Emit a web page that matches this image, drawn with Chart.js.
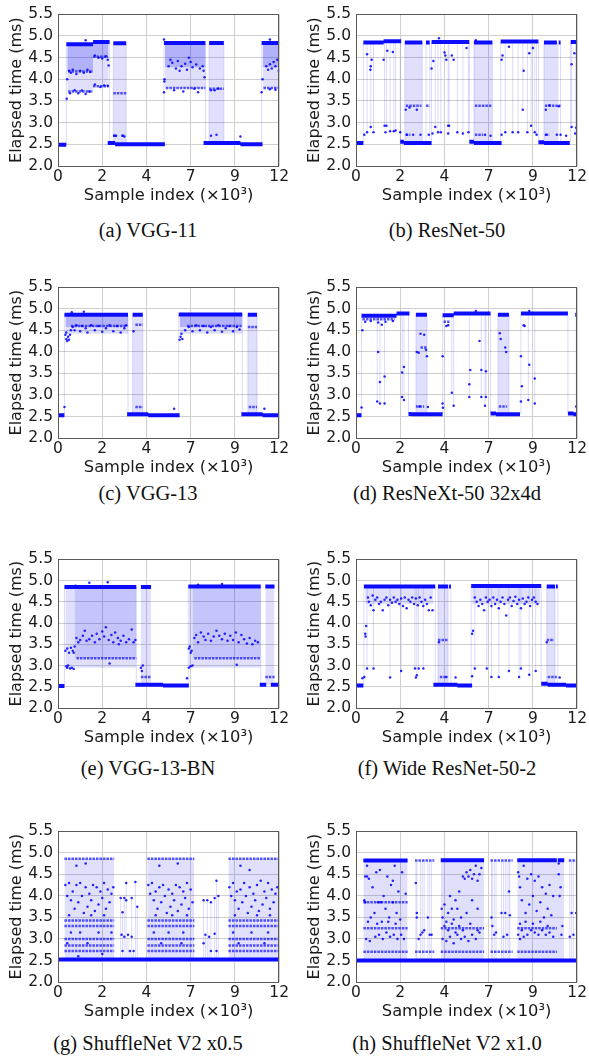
<!DOCTYPE html>
<html>
<head>
<meta charset="utf-8">
<script src="https://cdn.jsdelivr.net/npm/chart.js@4"></script>
<style>
  body { margin: 0; background: #fff; width: 589px; height: 1061px; position: relative; overflow: hidden; }
  canvas { position: absolute; }
  .cap { position: absolute; width: 290px; text-align: center; font-family: 'Liberation Serif', 'Times New Roman', serif; font-size: 20.5px; color: #111; line-height: 22px; }
</style>
</head>
<body>
<canvas id="cA"></canvas><canvas id="cB"></canvas>
<canvas id="cC"></canvas><canvas id="cD"></canvas>
<canvas id="cE"></canvas><canvas id="cF"></canvas>
<canvas id="cG"></canvas><canvas id="cH"></canvas>
<div class="cap" style="left:3px;top:219px">(a) VGG-11</div>
<div class="cap" style="left:302px;top:219px">(b) ResNet-50</div>
<div class="cap" style="left:3px;top:482px">(c) VGG-13</div>
<div class="cap" style="left:302px;top:482px">(d) ResNeXt-50 32x4d</div>
<div class="cap" style="left:3px;top:757px">(e) VGG-13-BN</div>
<div class="cap" style="left:302px;top:757px">(f) Wide ResNet-50-2</div>
<div class="cap" style="left:3px;top:1032px">(g) ShuffleNet V2 x0.5</div>
<div class="cap" style="left:302px;top:1032px">(h) ShuffleNet V2 x1.0</div>
<script>
// Axis ticks (sample index in thousands, elapsed time in ms)
const xTickValues = [0, 2.4, 4.8, 7.2, 9.6, 12];
const xTickLabels = ['0', '2', '4', '7', '9', '12'];
const yTickValues = [2.0, 2.5, 3.0, 3.5, 4.0, 4.5, 5.0, 5.5];

// Each panel: bands [x0, x1, y] (dense runs), rows [x0, x1, y] (dotted runs),
// fill / haze [x0, x1, low, high] (oscillation areas), spikes [x, low, high], dots [x, y]

// (a) VGG-11
const vgg11Bands = [[0, 0.45, 2.49], [0.45, 1.9, 4.81], [1.9, 2.8, 4.86], [2.7, 3.1, 2.53], [3.1, 5.8, 2.5],
  [3.0, 3.7, 4.83], [5.75, 8.0, 4.84], [8.2, 9.0, 4.84], [7.9, 9.9, 2.53], [9.9, 11.1, 2.5], [11.05, 12, 4.84]];
const vgg11Rows = [[0.55, 1.9, 4.18], [0.55, 1.9, 3.72], [1.9, 2.7, 4.52], [1.9, 2.75, 3.84], [3.0, 3.7, 3.68],
  [3.0, 3.2, 2.7], [3.45, 3.65, 2.7], [5.85, 8.0, 3.8], [8.2, 9.0, 3.78], [11.15, 12, 3.8]];
const vgg11Fill = [[0.5, 1.9, 4.18, 4.81], [1.9, 2.75, 4.5, 4.86], [5.8, 8.0, 4.28, 4.84], [11.1, 12, 4.28, 4.84]];
const vgg11Haze = [[0.5, 1.9, 3.72, 4.18], [1.9, 2.75, 3.84, 4.5], [3.0, 3.7, 2.5, 4.83], [5.8, 8.0, 3.8, 4.28],
  [8.2, 9.0, 2.53, 4.84], [11.1, 12, 3.8, 4.28]];
const vgg11Spikes = [[0.45, 2.49, 4.81], [2.8, 2.53, 4.86], [3.0, 2.53, 4.83], [3.7, 2.5, 4.83], [5.75, 2.5, 4.84],
  [8.0, 2.53, 4.84], [8.2, 2.53, 4.84], [9.0, 2.53, 4.84], [11.05, 2.5, 4.84]];
const vgg11Dots = [[0.47, 3.55], [0.5, 4.0], [0.6, 4.2], [0.7, 4.15], [0.8, 4.22], [1.0, 4.12], [1.2, 4.2], [1.4, 4.15],
  [1.6, 4.22], [1.75, 4.17], [0.65, 3.68], [0.9, 3.75], [1.1, 3.68], [1.3, 3.74], [1.5, 3.66], [1.7, 3.72], [1.5, 4.9],
  [2.0, 4.55], [2.2, 4.5], [2.4, 4.48], [2.6, 4.53], [2.75, 4.32], [2.7, 4.45], [2.0, 3.88], [2.3, 3.82], [2.5, 3.86],
  [2.7, 3.85], [3.05, 2.7], [3.15, 2.7], [3.5, 2.7], [3.6, 2.68], [5.75, 3.7], [5.78, 4.0], [5.77, 3.95], [5.75, 4.92],
  [6.0, 4.3], [6.2, 4.38], [6.4, 4.25], [6.5, 4.42], [6.7, 4.3], [6.9, 4.36], [7.0, 4.22], [7.2, 4.4], [7.3, 4.28],
  [7.5, 4.34], [7.7, 4.25], [7.85, 4.3], [6.1, 4.45], [6.6, 4.2], [7.1, 4.5], [7.9, 4.2], [7.95, 4.05], [6.3, 3.75],
  [6.8, 3.72], [7.4, 3.78], [7.6, 3.7], [8.3, 3.75], [8.5, 3.75], [8.7, 3.79], [8.3, 2.7], [8.6, 2.72], [9.9, 2.68],
  [11.05, 3.7], [11.1, 4.0], [11.3, 4.3], [11.5, 4.35], [11.6, 4.25], [11.7, 4.4], [11.8, 4.3], [11.9, 4.45],
  [11.98, 4.2], [11.4, 4.22], [11.5, 4.92], [11.5, 3.77], [11.8, 3.76]];

// (b) ResNet-50
const resnet50Bands = [[0, 0.4, 2.53], [0.4, 1.5, 4.85], [1.5, 2.45, 4.88], [2.4, 2.6, 2.56], [2.6, 4.1, 2.53],
  [2.65, 3.6, 4.85], [3.8, 4.0, 4.85], [4.1, 6.15, 4.86], [6.15, 6.4, 2.56], [6.4, 7.9, 2.53], [6.4, 7.4, 4.85],
  [7.85, 9.9, 4.87], [9.9, 10.2, 2.55], [10.2, 11.6, 2.53], [10.2, 10.9, 4.85], [11.0, 11.1, 4.85], [11.65, 12, 4.86]];
const resnet50Rows = [[2.7, 3.55, 3.39], [3.8, 4.0, 3.39], [6.45, 7.4, 3.39], [10.25, 11.1, 3.39], [2.7, 2.95, 2.72],
  [6.45, 6.9, 2.72], [10.3, 10.5, 2.72]];
const resnet50Fill = [];
const resnet50Haze = [[2.65, 3.6, 2.53, 4.85], [6.4, 7.4, 2.53, 4.85], [10.2, 11.0, 2.53, 4.85]];
const resnet50Spikes = [[0.4, 2.53, 4.85], [0.6, 2.78, 4.85], [0.8, 2.9, 4.85], [0.95, 2.78, 4.85], [1.55, 2.93, 4.88],
  [1.65, 2.93, 4.88], [1.85, 2.8, 4.88], [2.05, 2.8, 4.88], [2.15, 2.82, 4.88], [2.4, 2.53, 4.88], [2.65, 2.53, 4.85],
  [3.6, 2.53, 4.85], [3.8, 2.53, 4.85], [4.0, 2.53, 4.85], [4.1, 2.53, 4.86], [4.3, 2.9, 4.86], [4.45, 2.78, 4.86],
  [4.6, 2.78, 4.86], [5.0, 2.93, 4.86], [5.05, 2.75, 4.86], [5.5, 2.78, 4.86], [5.8, 2.75, 4.86], [6.1, 2.78, 4.86],
  [6.15, 2.56, 4.86], [6.4, 2.53, 4.85], [7.4, 2.53, 4.85], [7.85, 2.53, 4.87], [8.1, 2.78, 4.87], [8.5, 2.78, 4.87],
  [8.8, 2.78, 4.87], [9.05, 3.3, 4.87], [9.3, 2.78, 4.87], [9.5, 2.93, 4.87], [9.7, 2.78, 4.87], [9.8, 2.72, 4.87],
  [9.9, 2.55, 4.87], [10.2, 2.53, 4.85], [11.1, 2.53, 4.85], [11.65, 2.53, 4.86], [11.7, 2.9, 4.86], [11.9, 2.75, 4.86]];
const resnet50Dots = [[0.45, 2.72], [0.6, 4.58], [0.8, 4.3], [0.78, 4.22], [0.85, 4.45], [0.8, 2.9], [0.95, 2.78],
  [0.6, 2.78], [1.5, 4.45], [1.55, 2.93], [1.7, 4.66], [1.65, 2.93], [1.85, 2.8], [2.0, 4.63], [2.05, 2.8], [2.15, 2.82],
  [2.4, 2.78], [1.6, 2.78], [2.7, 3.3], [2.9, 3.35], [3.3, 3.3], [2.75, 2.72], [3.1, 2.72], [3.5, 2.72], [3.95, 2.72],
  [4.1, 4.25], [4.2, 4.42], [4.3, 2.9], [4.15, 2.75], [4.45, 2.78], [4.5, 4.95], [4.8, 4.62], [4.85, 4.55], [4.9, 4.45],
  [5.0, 2.93], [5.05, 2.93], [5.2, 4.55], [5.3, 4.45], [5.5, 2.78], [5.8, 2.75], [6.1, 2.78], [6.0, 4.72], [4.6, 2.78],
  [5.0, 2.75], [6.5, 4.9], [7.0, 2.72], [7.3, 2.7], [7.9, 4.45], [7.95, 4.55], [8.1, 2.78], [7.9, 2.72], [8.3, 4.75],
  [8.5, 2.78], [8.8, 2.78], [9.1, 4.2], [9.05, 3.3], [9.4, 4.6], [9.5, 2.93], [9.3, 2.78], [9.7, 2.78], [9.8, 2.72],
  [9.6, 4.72], [10.3, 3.3], [10.5, 3.4], [11.0, 3.38], [10.3, 2.72], [10.9, 2.72], [11.1, 2.72], [11.4, 2.7],
  [11.7, 4.35], [11.85, 4.6], [11.7, 2.9], [11.9, 2.75], [11.95, 2.88]];

// (c) VGG-13
const vgg13Bands = [[0, 0.35, 2.53], [0.35, 3.8, 4.86], [3.75, 4.9, 2.55], [4.9, 6.6, 2.53], [4.05, 4.6, 4.86],
  [6.55, 10.0, 4.87], [9.95, 11.1, 2.55], [11.1, 12, 2.53], [10.3, 10.8, 4.86]];
const vgg13Rows = [[4.2, 4.6, 4.63], [10.3, 10.8, 4.58], [4.2, 4.6, 2.72], [10.35, 10.8, 2.72], [0.7, 3.75, 4.6],
  [7.0, 9.95, 4.6]];
const vgg13Fill = [[0.4, 3.8, 4.58, 4.86], [6.6, 10.0, 4.58, 4.87]];
const vgg13Haze = [[0.4, 3.8, 4.42, 4.58], [6.6, 10.0, 4.42, 4.58], [4.05, 4.6, 2.55, 4.86], [10.3, 10.8, 2.55, 4.86]];
const vgg13Spikes = [[0.35, 2.53, 4.86], [3.8, 2.55, 4.86], [4.05, 2.55, 4.86], [4.6, 2.55, 4.86], [6.55, 2.53, 4.87],
  [10.0, 2.55, 4.87], [10.3, 2.55, 4.86], [10.8, 2.55, 4.86]];
const vgg13Dots = [[0.35, 2.72], [0.4, 4.4], [0.45, 4.3], [0.5, 4.25], [0.55, 4.35], [0.6, 4.28], [0.45, 4.45],
  [0.65, 4.4], [0.7, 4.5], [0.8, 4.58], [0.9, 4.5], [1.0, 4.62], [1.2, 4.48], [1.3, 4.6], [1.5, 4.55], [1.6, 4.45],
  [1.8, 4.62], [2.0, 4.5], [2.2, 4.6], [2.4, 4.47], [2.6, 4.55], [2.8, 4.62], [3.0, 4.48], [3.2, 4.6], [3.4, 4.45],
  [3.6, 4.55], [3.7, 4.62], [1.4, 4.93], [0.75, 4.92], [4.1, 4.48], [6.3, 2.68], [6.6, 4.28], [6.65, 4.35], [6.7, 4.42],
  [6.75, 4.3], [6.9, 4.5], [7.1, 4.58], [7.3, 4.48], [7.5, 4.62], [7.7, 4.5], [7.9, 4.6], [8.1, 4.45], [8.3, 4.58],
  [8.5, 4.5], [8.7, 4.62], [8.9, 4.47], [9.1, 4.55], [9.3, 4.6], [9.5, 4.48], [9.7, 4.58], [9.85, 4.52], [11.2, 2.68]];

// (d) ResNeXt-50 32x4d
const resnextBands = [[0, 0.3, 2.53], [0.3, 2.2, 4.84], [2.2, 2.9, 4.89], [2.85, 3.0, 2.56], [3.0, 4.7, 2.55],
  [3.25, 3.85, 4.86], [4.7, 5.3, 4.85], [5.3, 7.3, 4.89], [7.3, 7.6, 2.57], [7.6, 8.9, 2.55], [7.7, 8.3, 4.86],
  [8.95, 11.5, 4.89], [11.5, 11.8, 2.57], [11.8, 12, 2.55], [11.9, 12, 4.86]];
const resnextRows = [[3.25, 3.7, 2.73], [3.5, 3.85, 4.1], [7.75, 8.2, 2.73], [0.35, 2.1, 4.76], [4.75, 5.1, 4.7]];
const resnextFill = [];
const resnextHaze = [[3.25, 3.85, 2.55, 4.86], [7.7, 8.3, 2.55, 4.86]];
const resnextSpikes = [[0.3, 2.53, 4.84], [1.15, 2.85, 4.84], [1.3, 2.8, 4.84], [1.55, 2.8, 4.84], [2.5, 2.95, 4.89],
  [2.6, 2.88, 4.89], [2.85, 2.56, 4.89], [3.25, 2.55, 4.86], [3.85, 2.55, 4.86], [4.7, 2.55, 4.85], [5.2, 3.05, 4.89],
  [5.3, 2.75, 4.89], [6.15, 2.95, 4.89], [6.8, 2.95, 4.89], [7.0, 2.75, 4.89], [7.05, 2.95, 4.89], [7.3, 2.57, 4.89],
  [7.7, 2.55, 4.86], [8.3, 2.55, 4.86], [8.95, 2.55, 4.89], [9.35, 2.88, 4.89], [9.7, 2.8, 4.89], [11.5, 2.57, 4.89],
  [11.95, 2.55, 4.86]];
const resnextDots = [[0.3, 2.71], [0.35, 4.5], [0.5, 4.7], [0.8, 4.72], [1.2, 4.68], [1.4, 4.63], [1.6, 4.7], [2.0, 4.72],
  [1.2, 4.0], [1.3, 3.3], [1.55, 3.43], [1.15, 2.85], [1.3, 2.8], [1.55, 2.8], [2.6, 3.65], [2.5, 3.52], [2.5, 2.95],
  [2.6, 2.88], [3.3, 4.0], [3.5, 4.42], [3.4, 3.98], [3.7, 4.4], [3.8, 4.05], [3.85, 3.9], [3.45, 2.73], [3.9, 2.72],
  [4.7, 3.9], [4.7, 2.8], [4.72, 2.7], [4.9, 4.6], [5.0, 4.62], [5.2, 3.05], [5.3, 2.75], [6.15, 3.25], [6.15, 2.95],
  [6.2, 3.58], [6.7, 4.25], [6.8, 3.58], [6.8, 2.95], [7.05, 3.55], [7.05, 2.95], [7.0, 2.75], [7.8, 4.43], [7.85, 4.3],
  [8.1, 4.1], [8.15, 4.0], [8.95, 3.9], [9.0, 3.2], [8.95, 2.85], [9.1, 4.62], [9.15, 4.6], [9.4, 3.7], [9.35, 2.88],
  [9.7, 3.38], [9.7, 2.8], [11.95, 2.73], [6.5, 4.95], [9.4, 4.95]];

// (e) VGG-13-BN
const vgg13bnBands = [[0, 0.35, 2.52], [0.35, 4.25, 4.85], [4.2, 5.7, 2.55], [5.7, 7.1, 2.53], [4.5, 5.05, 4.85],
  [7.07, 11.0, 4.86], [10.95, 11.3, 2.55], [11.55, 12, 2.55], [11.25, 11.75, 4.86]];
const vgg13bnRows = [[1.0, 4.25, 3.17], [7.4, 11.0, 3.17], [4.5, 5.05, 2.73], [11.25, 11.75, 2.73]];
const vgg13bnFill = [];
const vgg13bnHaze = [[0.4, 4.25, 2.95, 4.85], [7.1, 11.0, 2.95, 4.86], [4.5, 5.05, 2.55, 4.85], [11.25, 11.75, 2.55, 4.86],
  [0.9, 4.25, 3.17, 4.85], [7.3, 11.0, 3.17, 4.86]];
const vgg13bnSpikes = [[0.35, 2.52, 4.85], [4.25, 2.55, 4.85], [7.07, 2.53, 4.86], [11.0, 2.55, 4.86]];
const vgg13bnDots = [[0.4, 3.35], [0.5, 3.4], [0.6, 3.3], [0.7, 3.42], [0.8, 3.35], [0.85, 3.3], [0.45, 2.98], [0.55, 3.0],
  [0.65, 2.93], [0.75, 2.95], [0.85, 2.92], [0.5, 2.95], [0.9, 3.45], [1.0, 3.65], [1.1, 3.55], [1.2, 3.6], [1.35, 3.7],
  [1.45, 3.82], [1.55, 3.58], [1.7, 3.62], [1.85, 3.7], [2.0, 3.55], [2.1, 3.75], [2.25, 3.62], [2.4, 3.8], [2.5, 3.68],
  [2.6, 3.9], [2.75, 3.6], [2.9, 3.72], [3.0, 3.55], [3.1, 3.78], [3.25, 3.65], [3.4, 3.58], [3.55, 3.7], [3.7, 3.55],
  [3.85, 3.62], [4.0, 3.85], [4.1, 3.55], [4.2, 3.6], [3.3, 3.5], [2.8, 3.05], [1.7, 4.95], [2.7, 4.96], [0.95, 4.88],
  [4.5, 2.95], [4.55, 2.87], [4.6, 3.0], [7.0, 2.7], [7.1, 3.4], [7.15, 3.45], [7.2, 3.3], [7.25, 3.35], [7.1, 2.95],
  [7.2, 2.98], [7.3, 3.0], [7.4, 3.65], [7.5, 3.72], [7.6, 3.55], [7.75, 3.78], [7.9, 3.68], [8.0, 3.6], [8.15, 3.75],
  [8.3, 3.58], [8.45, 3.68], [8.6, 3.82], [8.75, 3.7], [8.9, 3.62], [9.05, 3.75], [9.2, 3.58], [9.35, 3.7], [9.5, 3.6],
  [9.65, 3.78], [9.8, 3.55], [9.95, 3.72], [10.1, 3.62], [10.25, 3.52], [10.4, 3.65], [10.55, 3.5], [10.7, 3.58],
  [10.85, 3.55], [9.7, 3.02], [7.6, 4.9], [8.9, 4.92]];

// (f) Wide ResNet-50-2
const wideResnetBands = [[0, 0.4, 2.53], [0.43, 4.3, 4.86], [4.2, 4.6, 2.55], [4.6, 5.5, 2.55], [5.5, 6.3, 2.53],
  [4.45, 5.0, 4.86], [5.05, 5.15, 4.86], [6.25, 10.05, 4.87], [10.05, 10.4, 2.57], [10.4, 11.4, 2.55], [11.4, 12, 2.53],
  [10.35, 10.8, 4.86], [10.85, 10.95, 4.86]];
const wideResnetRows = [[4.45, 5.0, 3.6], [10.35, 10.75, 3.6], [4.55, 4.95, 2.73], [10.4, 10.9, 2.73]];
const wideResnetFill = [];
const wideResnetHaze = [[4.45, 5.0, 2.55, 4.86], [10.35, 10.8, 2.55, 4.86], [0.5, 4.2, 4.45, 4.86], [6.3, 10.0, 4.45, 4.87]];
const wideResnetSpikes = [[0.43, 2.53, 4.86], [0.6, 2.93, 4.86], [0.95, 2.93, 4.86], [1.85, 2.72, 4.86], [2.45, 2.87, 4.86],
  [3.2, 2.93, 4.86], [3.3, 2.77, 4.86], [3.4, 2.93, 4.86], [3.65, 2.93, 4.86], [4.3, 2.55, 4.86], [4.45, 2.55, 4.86],
  [5.0, 2.55, 4.86], [5.15, 2.55, 4.86], [6.25, 2.53, 4.87], [6.45, 2.93, 4.87], [7.1, 2.93, 4.87], [7.35, 2.73, 4.87],
  [7.75, 2.73, 4.87], [8.3, 2.87, 4.87], [8.85, 2.73, 4.87], [8.95, 2.93, 4.87], [9.4, 2.78, 4.87], [9.75, 2.87, 4.87],
  [10.05, 2.57, 4.87], [10.35, 2.55, 4.86], [10.8, 2.55, 4.86], [10.95, 2.55, 4.86]];
const wideResnetDots = [[0.35, 2.7], [0.45, 2.73], [0.5, 3.75], [0.52, 3.68], [0.55, 3.93], [0.6, 2.93], [0.65, 4.6],
  [0.7, 4.5], [0.8, 4.42], [0.9, 4.65], [0.95, 4.3], [1.05, 4.55], [1.15, 4.6], [1.25, 4.45], [1.35, 4.5], [1.45, 4.3],
  [1.55, 4.55], [1.65, 4.6], [1.75, 4.42], [1.85, 4.55], [1.95, 4.48], [2.05, 4.6], [2.15, 4.5], [2.25, 4.55],
  [2.35, 4.45], [2.45, 4.58], [2.55, 4.4], [2.65, 4.6], [2.75, 4.35], [2.85, 4.55], [2.95, 4.5], [3.05, 4.6],
  [3.15, 4.45], [3.25, 4.58], [3.35, 4.42], [3.45, 4.6], [3.55, 4.5], [3.65, 4.4], [3.75, 4.55], [3.85, 4.45],
  [3.95, 4.3], [4.05, 4.6], [4.15, 4.3], [0.95, 2.93], [1.85, 2.72], [2.45, 2.87], [3.2, 2.93], [3.3, 2.77], [3.25, 2.72],
  [3.4, 2.93], [3.65, 2.93], [4.5, 3.55], [4.9, 2.73], [5.4, 2.72], [6.3, 2.75], [6.3, 3.75], [6.35, 3.82], [6.45, 4.6],
  [6.55, 4.5], [6.65, 4.4], [6.75, 4.55], [6.85, 4.45], [6.95, 4.3], [7.05, 4.6], [7.15, 4.5], [7.25, 4.55], [7.35, 4.4],
  [7.45, 4.6], [7.55, 4.45], [7.65, 4.55], [7.75, 4.35], [7.85, 4.5], [7.95, 4.6], [8.05, 4.45], [8.15, 4.18],
  [8.25, 4.55], [8.35, 4.6], [8.45, 4.4], [8.55, 4.52], [8.65, 4.62], [8.75, 4.45], [8.85, 4.55], [8.95, 4.35],
  [9.05, 4.58], [9.15, 4.45], [9.25, 4.5], [9.35, 4.6], [9.45, 4.4], [9.55, 4.55], [9.65, 4.6], [9.75, 4.5],
  [9.85, 4.45], [6.45, 2.93], [7.1, 2.93], [7.35, 2.73], [7.75, 2.73], [8.3, 2.87], [8.85, 2.73], [8.95, 2.93],
  [9.4, 2.78], [9.75, 2.87], [10.35, 3.55], [11.05, 2.72]];

// (g) ShuffleNet V2 x0.5
const shuffle05Bands = [[0, 12, 2.52]];
const shuffle05Rows = [[0.35, 3.05, 4.86], [4.85, 7.4, 4.86], [9.25, 12, 4.86],
  [0.35, 3.05, 3.43], [4.85, 7.4, 3.43], [9.25, 12, 3.43], [0.35, 3.05, 3.3], [4.85, 7.4, 3.3], [9.25, 12, 3.3],
  [0.35, 3.05, 3.0], [4.85, 7.4, 3.0], [9.25, 12, 3.0], [0.35, 3.05, 2.85], [4.85, 7.4, 2.85], [9.25, 12, 2.85],
  [0.35, 3.05, 2.72], [4.85, 7.4, 2.72], [9.25, 12, 2.72]];
const shuffle05Fill = [];
const shuffle05Haze = [[0.35, 3.05, 2.52, 4.86], [4.85, 7.4, 2.52, 4.86], [9.25, 12, 2.52, 4.86]];
const shuffle05Spikes = [[3.4, 2.52, 3.95], [3.5, 2.52, 3.62], [3.6, 2.52, 3.95], [3.7, 2.52, 4.3], [3.8, 2.52, 3.1],
  [3.9, 2.52, 2.72], [4.0, 2.52, 3.95], [4.1, 2.52, 2.72], [4.2, 2.52, 4.32], [4.3, 2.52, 3.75], [7.9, 2.52, 3.9],
  [8.0, 2.52, 3.1], [8.1, 2.52, 3.9], [8.2, 2.52, 3.05], [8.3, 2.52, 3.85], [8.5, 2.52, 3.95], [8.6, 2.52, 4.35],
  [8.7, 2.52, 4.0]];
const shuffle05Dots = [[0.4, 4.25], [0.5, 4.0], [0.6, 4.3], [0.7, 3.9], [0.8, 4.1], [0.9, 3.7], [1.0, 4.25], [1.1, 3.85],
  [1.2, 4.3], [1.3, 4.0], [1.4, 3.6], [1.5, 4.2], [1.6, 3.75], [1.7, 4.05], [1.8, 3.9], [1.9, 4.25], [2.0, 3.65],
  [2.1, 4.2], [2.2, 3.8], [2.3, 4.1], [2.4, 3.95], [2.5, 4.3], [2.6, 3.7], [2.7, 4.15], [2.8, 3.85], [2.9, 4.05],
  [3.0, 4.2], [1.0, 4.7], [1.5, 4.75], [0.6, 3.55], [1.8, 3.55], [2.5, 3.55], [0.7, 3.15], [1.2, 3.15], [2.2, 3.15],
  [2.9, 3.15], [0.5, 2.9], [1.6, 2.9], [2.4, 2.65], [1.1, 2.6], [3.4, 3.95], [3.6, 3.95], [3.7, 3.9], [4.0, 3.95],
  [3.5, 3.62], [3.45, 3.1], [3.6, 3.05], [3.8, 3.1], [4.0, 3.05], [3.5, 2.72], [3.9, 2.72], [4.1, 2.72], [3.7, 4.3],
  [4.2, 4.32], [4.3, 3.75], [4.9, 4.25], [5.0, 4.05], [5.1, 4.3], [5.2, 3.9], [5.3, 4.1], [5.4, 3.7], [5.5, 4.2],
  [5.6, 3.85], [5.7, 4.25], [5.8, 4.0], [5.9, 3.6], [6.0, 4.15], [6.1, 3.75], [6.2, 4.05], [6.3, 3.9], [6.4, 4.25],
  [6.5, 3.65], [6.6, 4.2], [6.7, 3.8], [6.8, 4.1], [6.9, 3.95], [7.0, 4.3], [7.1, 3.7], [7.2, 4.15], [7.3, 3.85],
  [5.5, 4.7], [6.5, 4.75], [5.3, 3.55], [6.2, 3.55], [7.0, 3.55], [5.2, 3.15], [6.0, 3.15], [6.8, 3.15], [5.6, 2.9],
  [6.7, 2.9], [7.9, 3.9], [8.1, 3.9], [8.3, 3.85], [8.5, 3.95], [8.6, 4.35], [8.0, 3.1], [8.2, 3.05], [8.5, 3.12],
  [7.9, 2.9], [8.3, 2.72], [8.6, 2.72], [8.7, 4.0], [9.3, 4.2], [9.4, 4.0], [9.5, 4.3], [9.6, 3.9], [9.7, 4.1],
  [9.8, 3.7], [9.9, 4.15], [10.0, 3.85], [10.1, 4.3], [10.2, 4.0], [10.3, 3.6], [10.4, 4.2], [10.5, 3.75], [10.6, 4.05],
  [10.7, 3.9], [10.8, 4.25], [10.9, 3.65], [11.0, 4.35], [11.1, 3.8], [11.2, 4.1], [11.3, 3.95], [11.4, 4.3],
  [11.5, 3.7], [11.6, 4.15], [11.7, 3.85], [11.8, 4.05], [11.9, 4.2], [10.4, 4.6], [9.9, 4.7], [9.6, 3.55], [10.8, 3.55],
  [11.5, 3.55], [9.5, 3.15], [10.5, 3.15], [11.4, 3.15], [9.8, 2.9], [11.2, 2.9]];

// (h) ShuffleNet V2 x1.0
const shuffle10Bands = [[0, 12, 2.5], [0.4, 2.8, 4.82], [4.6, 6.95, 4.83], [8.75, 10.9, 4.83], [10.95, 11.3, 4.83]];
const shuffle10Rows = [[3.2, 4.25, 4.82], [7.3, 8.5, 4.82], [11.55, 12, 4.82], [0.4, 2.8, 2.7], [4.6, 6.95, 2.7],
  [8.75, 10.9, 2.7], [3.2, 4.25, 2.7], [7.3, 8.5, 2.7], [0.4, 2.8, 3.25], [4.6, 6.95, 3.25], [8.75, 10.9, 3.25],
  [0.4, 2.8, 3.85]];
const shuffle10Fill = [];
const shuffle10Haze = [[0.4, 2.8, 2.5, 4.82], [4.6, 6.95, 2.5, 4.83], [8.75, 11.3, 2.5, 4.83]];
const shuffle10Spikes = [[3.25, 2.5, 4.82], [3.3, 2.5, 4.82], [3.5, 2.5, 4.82], [3.6, 2.5, 4.82], [3.7, 2.5, 4.82],
  [3.9, 2.5, 4.82], [4.0, 2.5, 4.82], [4.1, 2.5, 4.82], [7.35, 2.5, 4.82], [7.4, 2.5, 4.82], [7.5, 2.5, 4.82],
  [7.6, 2.5, 4.82], [7.9, 2.5, 4.82], [8.0, 2.5, 4.82], [8.1, 2.5, 4.82], [8.2, 2.5, 4.82], [8.3, 2.5, 4.82],
  [8.35, 2.5, 4.82], [11.6, 2.5, 4.82], [11.7, 2.5, 4.82], [11.8, 2.5, 4.82], [11.95, 2.5, 4.82]];
const shuffle10Dots = [[0.45, 3.9], [0.5, 4.45], [0.6, 4.7], [0.7, 4.4], [0.8, 3.5], [0.9, 4.2], [1.0, 3.6], [1.1, 4.55],
  [1.2, 3.85], [1.3, 4.6], [1.4, 3.4], [1.5, 4.0], [1.6, 3.7], [1.7, 4.45], [1.8, 3.5], [1.9, 4.25], [2.0, 3.85],
  [2.1, 4.7], [2.2, 3.6], [2.3, 4.1], [2.4, 3.45], [2.5, 4.55], [2.6, 3.0], [2.7, 4.05], [0.55, 3.0], [0.75, 2.95],
  [1.05, 3.05], [1.25, 3.1], [1.45, 3.0], [1.65, 3.15], [1.85, 3.05], [2.05, 3.1], [2.25, 3.0], [2.45, 3.1],
  [0.65, 3.4], [1.15, 3.35], [1.75, 3.4], [2.15, 3.35], [0.5, 3.85], [1.35, 3.85], [0.6, 4.45], [2.0, 4.35],
  [3.25, 4.3], [3.3, 3.6], [3.3, 3.5], [3.5, 3.1], [3.6, 3.15], [3.7, 3.2], [3.9, 3.5], [4.0, 3.1], [3.4, 3.0],
  [4.1, 3.1], [4.65, 3.7], [4.7, 3.5], [4.8, 3.8], [4.9, 3.4], [5.0, 3.6], [5.1, 4.0], [5.2, 3.7], [5.3, 3.45],
  [5.4, 3.9], [5.5, 3.7], [5.6, 4.1], [5.7, 3.5], [5.8, 4.45], [5.9, 4.4], [6.0, 4.55], [6.1, 4.45], [6.2, 4.6],
  [6.3, 4.4], [6.4, 4.5], [6.5, 4.7], [6.6, 4.35], [6.7, 4.5], [6.8, 4.65], [6.0, 3.6], [6.3, 3.9], [6.6, 3.7],
  [4.7, 3.0], [4.9, 2.95], [5.1, 3.05], [5.3, 2.9], [5.5, 3.1], [5.7, 3.0], [5.9, 3.05], [6.1, 2.95], [6.3, 3.1],
  [6.5, 3.0], [6.7, 3.15], [4.8, 3.3], [5.0, 3.2], [5.2, 3.35], [5.4, 3.15], [5.6, 3.3], [5.8, 3.2], [6.2, 3.35],
  [6.6, 3.2], [7.35, 3.5], [7.4, 3.3], [7.5, 3.1], [7.6, 3.15], [7.9, 3.6], [8.0, 3.05], [8.1, 3.6], [8.3, 4.1],
  [8.35, 3.55], [8.2, 3.1], [8.8, 4.55], [8.85, 4.45], [8.9, 4.2], [9.0, 3.9], [9.1, 4.7], [9.2, 3.6], [9.3, 4.4],
  [9.4, 3.8], [9.5, 4.5], [9.6, 4.0], [9.7, 4.35], [9.8, 3.65], [9.9, 4.45], [10.0, 3.85], [10.1, 4.2], [10.2, 3.5],
  [10.3, 4.05], [10.4, 3.7], [10.5, 4.25], [10.6, 3.55], [10.7, 4.0], [8.8, 3.1], [8.9, 3.0], [9.0, 3.2], [9.1, 3.05],
  [9.3, 3.1], [9.5, 3.2], [9.7, 3.15], [9.9, 3.1], [10.1, 3.2], [10.3, 3.1], [10.5, 3.15], [10.7, 3.05], [8.9, 3.35],
  [9.2, 3.4], [9.6, 3.35], [10.0, 3.4], [10.4, 3.3], [11.0, 4.5], [11.05, 4.0], [11.1, 4.2], [11.15, 3.1], [11.0, 4.75],
  [11.2, 3.3], [11.7, 3.6], [11.8, 3.1], [11.95, 3.6], [11.6, 3.05]];

// Panel layout
const plotTops = [10, 283, 555, 827];
const plotHeights = [156, 155, 153, 155];

const BLUE = 'rgb(12,12,255)';

function segments(list) {
    const pts = [];
    list.forEach(([x0, x1, y]) => { pts.push({x: x0, y: y}, {x: x1, y: y}, {x: x1, y: null}); });
    return pts;
}

function spikes(list) {
    const pts = [];
    list.forEach(([x, lo, hi]) => { pts.push({x: x, y: lo}, {x: x, y: hi}, {x: x, y: null}); });
    return pts;
}

function areas(list, color, order) {
    return list.map(([x0, x1, lo, hi]) => ({
        data: [{x: x0, y: hi}, {x: x1, y: hi}],
        fill: {value: lo},
        backgroundColor: color,
        borderColor: 'transparent',
        borderWidth: 0,
        pointRadius: 0,
        order: order
    }));
}

const framePlugin = {
    id: 'frame',
    afterDraw(chart) {
        const {ctx, chartArea: a} = chart;
        ctx.save();
        ctx.strokeStyle = '#5a5a5a';
        ctx.lineWidth = 1;
        ctx.strokeRect(Math.round(a.left) + 0.5, Math.round(a.top) + 0.5, Math.round(a.width) - 1, Math.round(a.height));
        ctx.restore();
    }
};

function makePanel(id, col, row, bands, rows, fill, haze, spk, dots) {
    const canvas = document.getElementById(id);
    const h = plotHeights[row] + 50;
    canvas.width = 291;
    canvas.height = h;
    canvas.style.left = (col === 0 ? 0 : 298) + 'px';
    canvas.style.top = (plotTops[row] - 10) + 'px';
    canvas.style.width = '291px';
    canvas.style.height = h + 'px';

    const datasets = [
        {data: dots.map(([x, y]) => ({x: x, y: y})), showLine: false, pointRadius: 1.25, pointBorderWidth: 0,
         pointBackgroundColor: 'rgba(0,0,255,0.85)', order: 1},
        {data: segments(bands), borderColor: BLUE, borderWidth: 4, pointRadius: 0, order: 2},
        {data: segments(rows), borderColor: 'rgba(20,20,255,0.72)', borderWidth: 2.5, borderDash: [2.5, 1], pointRadius: 0, order: 3},
        {data: spikes(spk), borderColor: 'rgba(0,0,255,0.15)', borderWidth: 1, pointRadius: 0, order: 4},
        ...areas(fill, 'rgba(0,0,240,0.3)', 5),
        ...areas(haze, 'rgba(0,0,240,0.12)', 6)
    ];

    return new Chart(canvas, {
        type: 'line',
        data: {datasets: datasets},
        options: {
            responsive: false,
            animation: false,
            events: [],
            layout: {padding: {left: 0, right: 11, top: 10, bottom: 0}},
            plugins: {legend: {display: false}, tooltip: {enabled: false}},
            scales: {
                x: {
                    type: 'linear',
                    min: 0,
                    max: 12,
                    afterBuildTicks: (scale) => { scale.ticks = xTickValues.map(v => ({value: v})); },
                    afterFit: (scale) => { scale.height = 40; },
                    grid: {color: '#cfcfcf', lineWidth: 1, drawTicks: false},
                    border: {display: false},
                    ticks: {
                        autoSkip: false,
                        padding: 2,
                        color: '#1a1a1a',
                        font: {family: 'DejaVu Sans', size: 15.5},
                        maxRotation: 0,
                        callback: (v, i) => xTickLabels[i]
                    },
                    title: {
                        display: true,
                        text: 'Sample index (×10³)',
                        color: '#1a1a1a',
                        font: {family: 'DejaVu Sans', size: 16.3},
                        padding: {top: 0, bottom: 0}
                    }
                },
                y: {
                    min: 2,
                    max: 5.5,
                    afterBuildTicks: (scale) => { scale.ticks = yTickValues.map(v => ({value: v})); },
                    afterFit: (scale) => { scale.width = 58; },
                    grid: {color: '#cfcfcf', lineWidth: 1, drawTicks: false},
                    border: {display: false},
                    ticks: {
                        autoSkip: false,
                        padding: 5,
                        color: '#1a1a1a',
                        font: {family: 'DejaVu Sans', size: 15.5},
                        callback: (v) => v.toFixed(1)
                    },
                    title: {
                        display: true,
                        text: 'Elapsed time (ms)',
                        color: '#1a1a1a',
                        font: {family: 'DejaVu Sans', size: 16},
                        padding: {top: 7, bottom: 0}
                    }
                }
            }
        },
        plugins: [framePlugin]
    });
}

makePanel('cA', 0, 0, vgg11Bands, vgg11Rows, vgg11Fill, vgg11Haze, vgg11Spikes, vgg11Dots);
makePanel('cB', 1, 0, resnet50Bands, resnet50Rows, resnet50Fill, resnet50Haze, resnet50Spikes, resnet50Dots);
makePanel('cC', 0, 1, vgg13Bands, vgg13Rows, vgg13Fill, vgg13Haze, vgg13Spikes, vgg13Dots);
makePanel('cD', 1, 1, resnextBands, resnextRows, resnextFill, resnextHaze, resnextSpikes, resnextDots);
makePanel('cE', 0, 2, vgg13bnBands, vgg13bnRows, vgg13bnFill, vgg13bnHaze, vgg13bnSpikes, vgg13bnDots);
makePanel('cF', 1, 2, wideResnetBands, wideResnetRows, wideResnetFill, wideResnetHaze, wideResnetSpikes, wideResnetDots);
makePanel('cG', 0, 3, shuffle05Bands, shuffle05Rows, shuffle05Fill, shuffle05Haze, shuffle05Spikes, shuffle05Dots);
makePanel('cH', 1, 3, shuffle10Bands, shuffle10Rows, shuffle10Fill, shuffle10Haze, shuffle10Spikes, shuffle10Dots);
</script>
</body>
</html>
